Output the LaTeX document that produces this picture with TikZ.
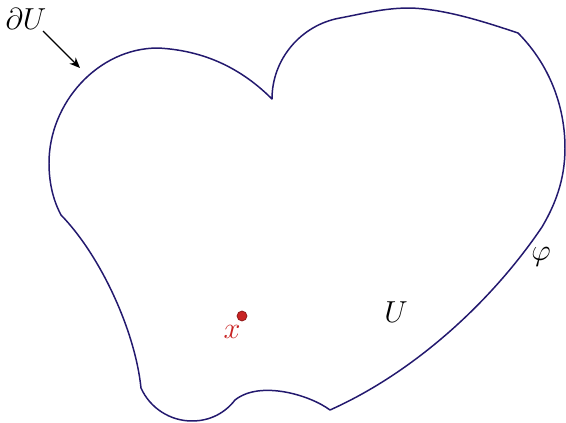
\documentclass[tikz,border=0pt]{standalone}
\usetikzlibrary{arrows.meta}
\definecolor{bnd}{RGB}{35,25,110}
\definecolor{pt}{RGB}{200,35,35}
\begin{document}
\begin{tikzpicture}[x=0.02cm,y=-0.02cm,
  bline/.style={draw=bnd,line width=0.85pt,line join=round},
  lbl/.style={inner sep=0pt,font=\fontsize{17}{20}\selectfont}]
\useasboundingbox (0,0) rectangle (566,423);
\draw[bline] (141,388) .. controls (135,330) and (100,255) .. (61,215)
  .. controls (52,198) and (49,180) .. (49,163)
  .. controls (49,103) and (98,48) .. (158,48)
  .. controls (195,50) and (235,62) .. (272,99)
  .. controls (272,59) and (301,25) .. (340,18)
  .. controls (366,13) and (385,8) .. (410,8)
  .. controls (445,9) and (485,22) .. (518,33)
  .. controls (545,60) and (565,100) .. (565,148)
  .. controls (565,180) and (555,205) .. (542,227)
  .. controls (492,301) and (415,372) .. (330,410)
  .. controls (310,395) and (260,380) .. (235,400)
  .. controls (225,413) and (210,421) .. (192,421)
  .. controls (170,421) and (150,408) .. (141,388);
\node[lbl] (dU) at (26,19) {$\partial U$};
\coordinate (tail) at (43,31);
\coordinate (tip) at (80,68);
\draw[-{Stealth[length=6pt,width=5pt]},line width=0.7pt] (tail) -- (tip);
\node[lbl] (U) at (396,312) {$U$};
\node[lbl] (phi) at (541,257) {$\varphi$};
\node[circle,fill=pt,draw=pt!70!black,line width=0.4pt,inner sep=0pt,minimum size=10*0.5669pt] (xp) at (242,316) {};
\node[lbl,text=pt] (xl) at (232,332) {$x$};
\end{tikzpicture}
\end{document}
